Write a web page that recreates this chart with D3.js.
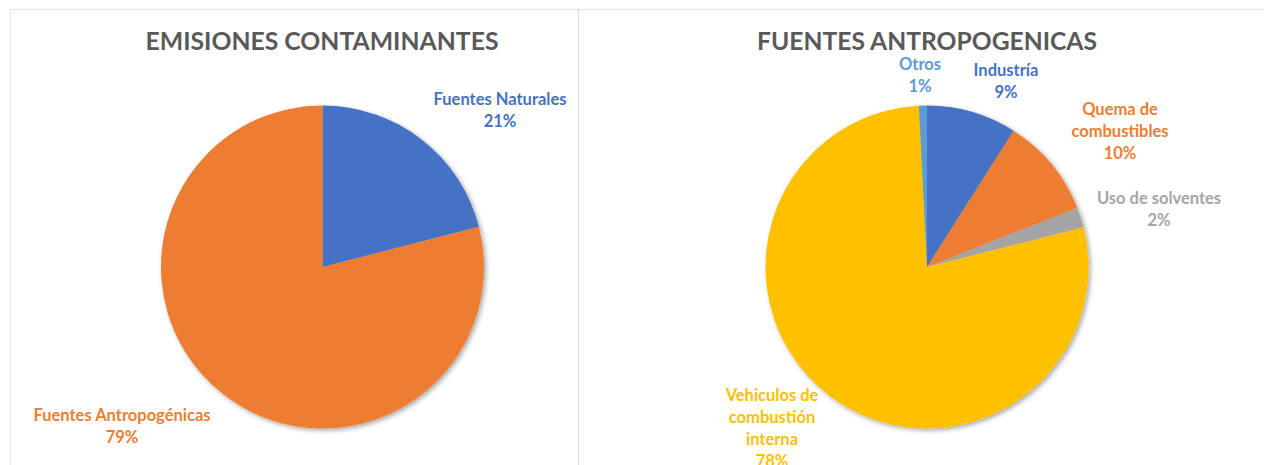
<!DOCTYPE html>
<html><head><meta charset="utf-8">
<script src="https://cdnjs.cloudflare.com/ajax/libs/d3/7.8.5/d3.min.js"></script>
<style>
html,body{margin:0;padding:0;background:#fff;}
svg{display:block;}
text{font-family:Lato,"Open Sans",sans-serif;font-weight:700;}
</style></head>
<body>
<svg id="c" width="1264" height="465"></svg>
<script>
// Data
const titleLeft = "EMISIONES CONTAMINANTES";
const leftCategories = ["Fuentes Naturales", "Fuentes Antropogénicas"];
const leftValues = [21, 79];
const leftLabelLines = [["Fuentes Naturales", "21%"], ["Fuentes Antropogénicas", "79%"]];
const leftColors = ["#4472C4", "#ED7D31"];

const titleRight = "FUENTES ANTROPOGENICAS";
const rightCategories = ["Industría", "Quema de combustibles", "Uso de solventes", "Vehiculos de combustión interna", "Otros"];
const rightValues = [9, 10, 2, 78, 0.8];
const rightLabelLines = [["Industría", "9%"], ["Quema de", "combustibles", "10%"], ["Uso de solventes", "2%"], ["Vehiculos de", "combustión", "interna", "78%"], ["Otros", "1%"]];
const rightColors = ["#4472C4", "#ED7D31", "#A5A5A5", "#FFC000", "#5B9BD5"];

const svg = d3.select("#c");
const defs = svg.append("defs");
const f = defs.append("filter").attr("id","sh").attr("x","-20%").attr("y","-20%").attr("width","140%").attr("height","140%");
f.append("feGaussianBlur").attr("in","SourceAlpha").attr("stdDeviation",2.5).attr("result","b");
f.append("feOffset").attr("in","b").attr("dx",2).attr("dy",2).attr("result","o");
f.append("feComponentTransfer").attr("in","o").attr("result","o2").append("feFuncA").attr("type","linear").attr("slope",0.35);
const m = f.append("feMerge"); m.append("feMergeNode").attr("in","o2"); m.append("feMergeNode").attr("in","SourceGraphic");

// panel borders
svg.append("line").attr("x1",10).attr("x2",1264).attr("y1",9.5).attr("y2",9.5).attr("stroke","#dde3ea");
svg.append("line").attr("x1",10.5).attr("x2",10.5).attr("y1",9).attr("y2",465).attr("stroke","#dfe6f0");
svg.append("line").attr("x1",578.5).attr("x2",578.5).attr("y1",9).attr("y2",465).attr("stroke","#d9d9d9");

function drawPie(cx, cy, r, values, colors, labelLines, labelPos, title, titleX, titleWidth){
  svg.append("text").attr("x",titleX).attr("y",50).attr("text-anchor","middle")
    .attr("fill","#595959").attr("font-size",25).attr("textLength",titleWidth).attr("lengthAdjust","spacingAndGlyphs").text(title);
  const pie = d3.pie().sort(null).value(d=>d);
  const arc = d3.arc().innerRadius(0).outerRadius(r);
  const g = svg.append("g").attr("transform",`translate(${cx},${cy})`);
  const arcs = pie(values);
  g.append("g").attr("filter","url(#sh)").selectAll("path").data(arcs).join("path")
    .attr("d",arc).attr("fill",(d,i)=>colors[i]);
  arcs.forEach((a,i)=>{
    const [lx,ly] = labelPos[i];
    const t = svg.append("text").attr("text-anchor","middle").attr("font-size",16.5).attr("fill",colors[i]);
    labelLines[i].forEach((s,j)=>{
      t.append("tspan").attr("x",lx).attr("y",ly + j*22).text(s);
    });
  });
}

drawPie(322.5, 267, 161.5, leftValues, leftColors, leftLabelLines,
  [[500,105],[122,421]], titleLeft, 322, 353);
drawPie(927, 267, 161.5, rightValues, rightColors, rightLabelLines,
  [[1006,76],[1120,115],[1159,204],[772,401],[920,70]], titleRight, 927, 340);
</script>
</body></html>
